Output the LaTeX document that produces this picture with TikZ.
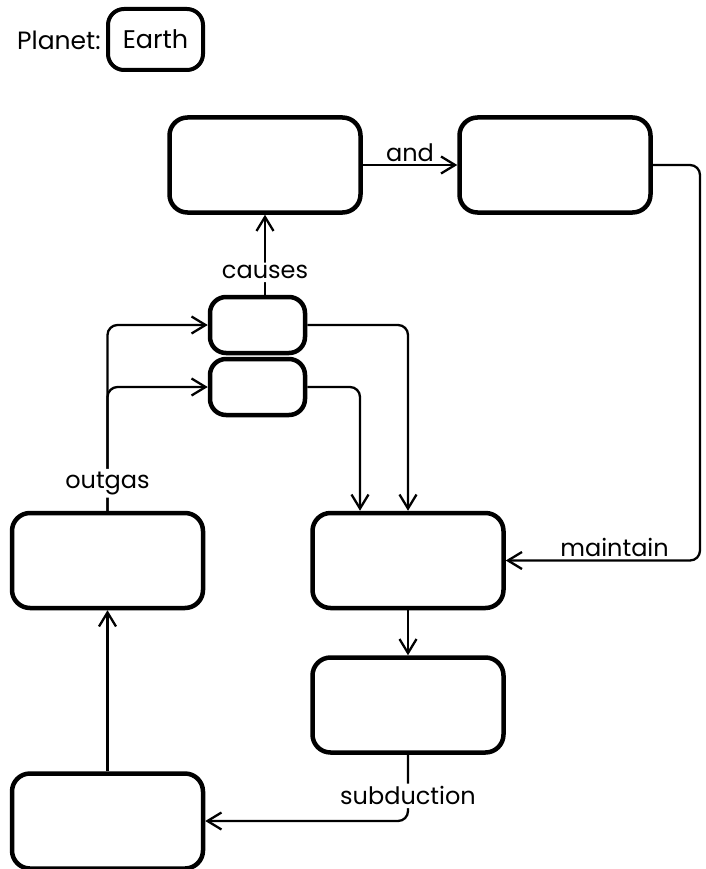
\documentclass[tikz,border=0pt]{standalone}
\usepackage{fontspec}
\setmainfont{Poppins}
\usetikzlibrary{arrows.meta, positioning}

\tikzset{
  box/.style={draw, line width=4.5pt, rounded corners=18pt, minimum width=191pt, minimum height=95pt, inner sep=0pt},
  smallbox/.style={box, minimum width=95pt, minimum height=56pt, rounded corners=16pt},
  conn/.style={line width=2.3pt, rounded corners=10pt, -{Straight Barb[length=14pt, width=17pt]}},
  lbl/.style={font=\fontsize{24}{28}\selectfont, fill=white, inner sep=3pt},
}

\begin{document}
\begin{tikzpicture}[x=1pt, y=-1pt, font=\fontsize{24}{28}\selectfont]
\useasboundingbox (0,0) rectangle (705,869);

% planet
\node[anchor=base west, font=\fontsize{25}{30}\selectfont, inner sep=0pt] (planetlbl) at (17,50) {Planet:};
\node[draw, line width=4pt, rounded corners=16pt, minimum width=95pt, minimum height=61pt, inner sep=0pt, font=\fontsize{25.5}{30}\selectfont] (earth) at (155.5,39.5) {Earth};

% boxes
\node[box] (heat) at (265,165) {};
\node[box] (warm) at (555,165) {};
\node[smallbox] (co2) at (257.5,325) {};
\node[smallbox] (h2o) at (257.5,387) {};
\node[box] (ocean) at (408,560.5) {};
\node[box] (volcano) at (107.5,560.5) {};
\node[box] (rock) at (408,705) {};
\node[box] (mantle) at (107.5,821) {};
\coordinate (bend) at (700,165);

% connectors
\draw[conn] (heat) -- node[above, inner sep=2pt] {and} (warm);
\draw[conn] (co2.north -| heat.south) -- node[lbl, pos=0.28] {causes} (heat.south);
\draw[conn] (volcano.north) |- (h2o.west);
\draw[conn] (volcano.north) |- node[lbl, pos=0.074] {outgas} (co2.west);
\draw[conn] (co2.east) -| (ocean.north);
\draw[conn] (h2o.east) -| ([xshift=-48pt]ocean.north);
\draw[conn] (warm.east) -- (bend) |- node[pos=0.72, above, inner sep=3pt] {maintain} (ocean.east);
\draw[conn] (ocean) -- (rock);
\draw[conn] (rock.south) |- node[lbl, pos=0.31] {subduction} (mantle.east);
\draw[conn] (mantle) -- (volcano);
\end{tikzpicture}
\end{document}
